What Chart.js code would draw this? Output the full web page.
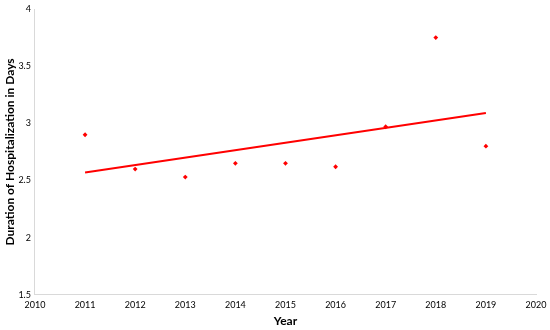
<!DOCTYPE html>
<html>
<head>
<meta charset="utf-8">
<script src="https://cdn.jsdelivr.net/npm/chart.js@4"></script>
<style>
  html, body { margin: 0; padding: 0; background: #fff; }
  #wrap { width: 550px; height: 330px; }
</style>
</head>
<body>
<div id="wrap"><canvas id="myChart" width="550" height="330"></canvas></div>
<script>
// data
var years = [2011, 2012, 2013, 2014, 2015, 2016, 2017, 2018, 2019];
var days = [2.90, 2.60, 2.53, 2.65, 2.65, 2.62, 2.97, 3.75, 2.80];
var trendYears = [2011, 2019];
var trendDays = [2.57, 3.09]; // linear trend line, ends as drawn
var yTicks = [1.5, 2, 2.5, 3, 3.5, 4];

var red = '#ff0000';
var axisGrey = '#d9d9d9';

var points = years.map(function (y, i) { return { x: y, y: days[i] }; });
var trend = trendYears.map(function (y, i) { return { x: y, y: trendDays[i] }; });

var ctx = document.getElementById('myChart');
var myChart = new Chart(ctx, {
    type: 'scatter',
    data: {
        datasets: [{
            label: 'Duration',
            data: points,
            pointStyle: 'rectRot',
            pointRadius: 2.4,
            backgroundColor: red,
            borderColor: red,
            borderWidth: 0,
            showLine: false
        }, {
            label: 'Trend',
            data: trend,
            showLine: true,
            borderColor: red,
            borderWidth: 2,
            pointRadius: 0
        }]
    },
    options: {
        responsive: false,
        animation: false,
        layout: { padding: { top: 9, right: 14, left: 3, bottom: 2 } },
        plugins: {
            legend: { display: false },
            tooltip: { enabled: false }
        },
        scales: {
            x: {
                type: 'linear',
                min: 2010,
                max: 2020,
                ticks: {
                    stepSize: 1,
                    color: '#000',
                    font: { family: 'Lato', size: 9 },
                    padding: 1,
                    callback: function (v) { return String(v); }
                },
                grid: { display: false, drawTicks: true, tickLength: 4, color: axisGrey },
                border: { color: axisGrey, width: 1 },
                title: {
                    display: true,
                    text: 'Year',
                    color: '#000',
                    font: { family: 'Lato', size: 12, weight: 'bold' },
                    padding: { top: 2, bottom: 0 }
                }
            },
            y: {
                min: 1.5,
                max: 4,
                afterBuildTicks: function (axis) {
                    axis.ticks = yTicks.map(function (v) { return { value: v }; });
                },
                ticks: {
                    color: '#000',
                    font: { family: 'Lato', size: 9 },
                    padding: 1,
                    callback: function (v) { return String(v); }
                },
                grid: { display: false, drawTicks: true, tickLength: 3, color: axisGrey },
                border: { color: axisGrey, width: 1 },
                title: {
                    display: true,
                    text: 'Duration of Hospitalization in Days',
                    color: '#000',
                    font: { family: 'Lato', size: 12, weight: 'bold' },
                    padding: { top: 0, bottom: 0 }
                }
            }
        }
    }
});
</script>
</body>
</html>
